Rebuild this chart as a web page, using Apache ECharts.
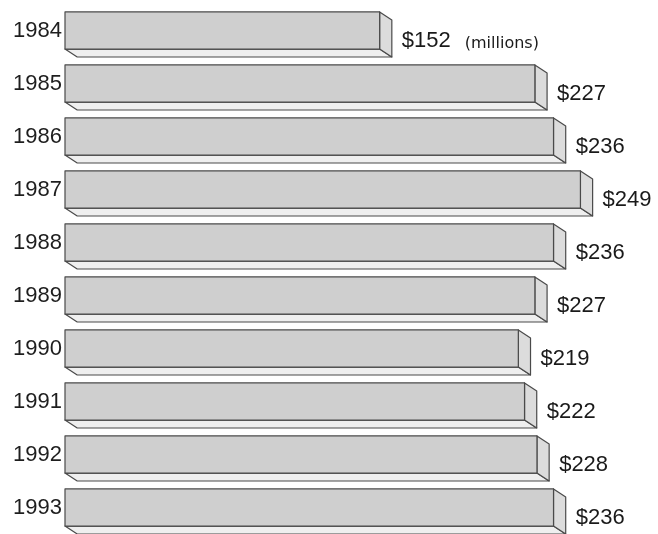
<!DOCTYPE html>
<html>
<head>
<meta charset="utf-8">
<script src="https://cdn.jsdelivr.net/npm/echarts@6/dist/echarts.min.js"></script>
<style>
html,body{margin:0;padding:0;background:#fff;}
#c{width:658px;height:534px;}
</style>
</head>
<body>
<div id="c"></div>
<script>
const years = ['1984','1985','1986','1987','1988','1989','1990','1991','1992','1993'];
const values = [152, 227, 236, 249, 236, 227, 219, 222, 228, 236];
const unitNote = '(millions)';

const valueFont = '22px "Liberation Sans", Arial, sans-serif';
const noteFont = '16px "DejaVu Sans", sans-serif';
const measureCtx = document.createElement('canvas').getContext('2d');
function textWidth(t, f) { measureCtx.font = f; return measureCtx.measureText(t).width; }

const chart = echarts.init(document.getElementById('c'));

function renderItem(params, api) {
  const v = api.value(0);
  const c = api.value(1);
  const start = api.coord([0, c]);
  const end = api.coord([v, c]);
  const band = api.size([0, 1])[1];
  const h = band * 0.7;
  const dx = band * 0.23;
  const dy = band * 0.15;
  const x0 = start[0], x1 = end[0];
  const y0 = end[1] - h / 2, y1 = end[1] + h / 2;
  const edge = { stroke: '#4a4a4a', lineWidth: 1.2, lineJoin: 'round' };
  const children = [
    { type: 'polygon', shape: { points: [[x0, y1], [x1, y1], [x1 + dx, y1 + dy], [x0 + dx, y1 + dy]] },
      style: Object.assign({ fill: '#efefef' }, edge) },
    { type: 'polygon', shape: { points: [[x1, y0], [x1 + dx, y0 + dy], [x1 + dx, y1 + dy], [x1, y1]] },
      style: Object.assign({ fill: '#dcdcdc' }, edge) },
    { type: 'rect', shape: { x: x0, y: y0, width: x1 - x0, height: h },
      style: Object.assign({ fill: '#cfcfcf' }, edge) }
  ];
  const lx = x1 + dx + 10;
  const ly = end[1] + 10;
  const valText = '$' + v;
  children.push({ type: 'text', style: {
    text: valText, x: lx, y: ly, fill: '#1a1a1a', font: valueFont,
    align: 'left', verticalAlign: 'middle', textAlign: 'left', textVerticalAlign: 'middle'
  }});
  if (params.dataIndex === 0) {
    children.push({ type: 'text', style: {
      text: unitNote, x: lx + textWidth(valText, valueFont) + 14, y: ly + 3, fill: '#1a1a1a', font: noteFont,
      align: 'left', verticalAlign: 'middle', textAlign: 'left', textVerticalAlign: 'middle'
    }});
  }
  return { type: 'group', children: children };
}

chart.setOption({
  backgroundColor: '#ffffff',
  animation: false,
  grid: { left: 65, top: 4, width: 579.6, height: 530, containLabel: false },
  xAxis: { type: 'value', min: 0, max: 280, show: false },
  yAxis: {
    type: 'category', data: years, inverse: true,
    axisLine: { show: false }, axisTick: { show: false }, splitLine: { show: false },
    axisLabel: { fontSize: 22, color: '#1e1e1e', fontFamily: '"Liberation Sans", Arial, sans-serif',
      margin: 3, padding: [5, 0, 0, 0] }
  },
  series: [{
    type: 'custom',
    renderItem: renderItem,
    clip: false,
    encode: { x: 0, y: 1 },
    data: values.map((v, i) => [v, i])
  }]
});
</script>
</body>
</html>
